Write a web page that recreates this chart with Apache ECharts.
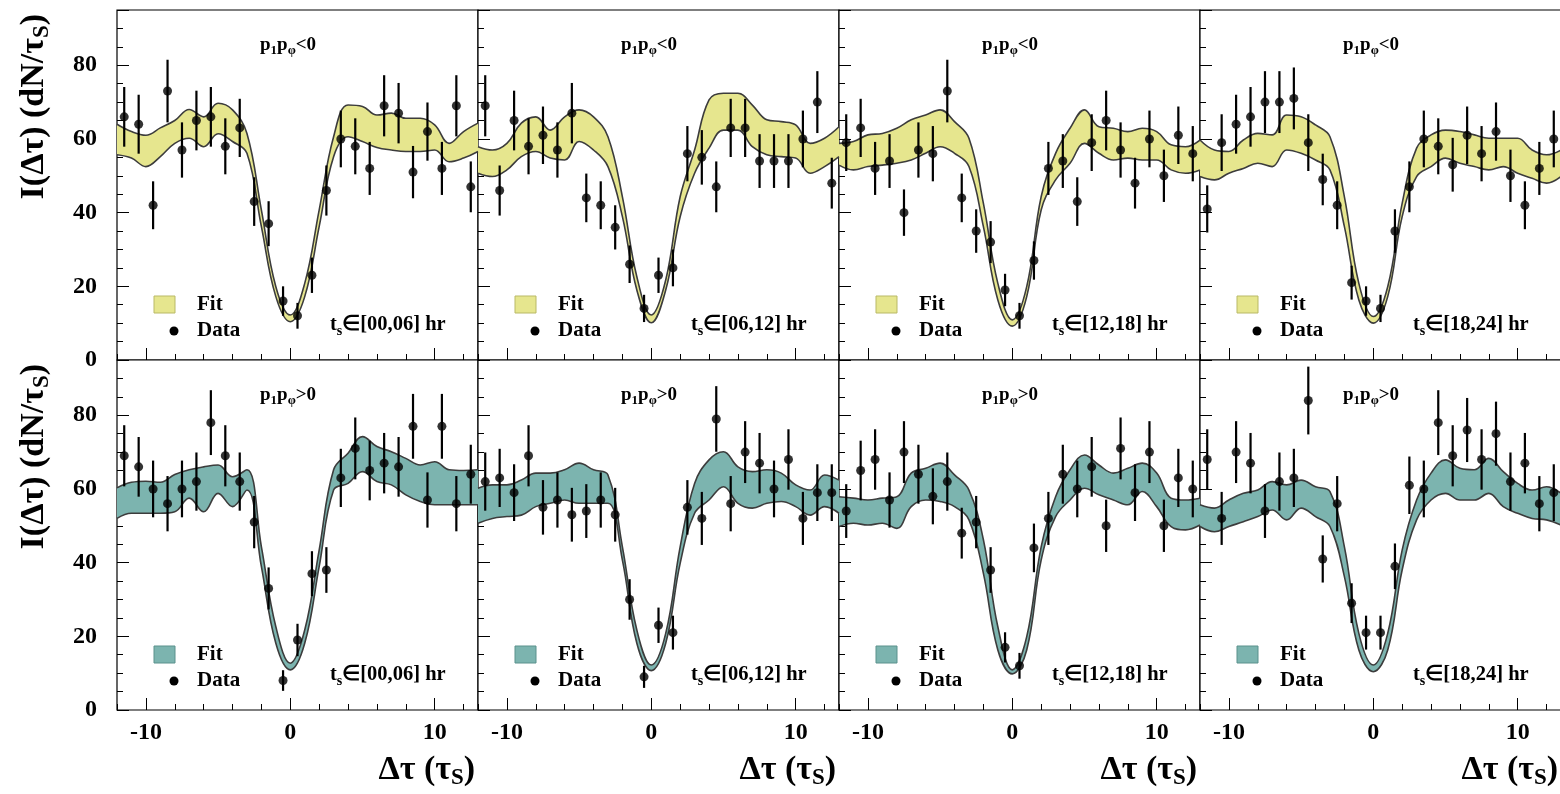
<!DOCTYPE html>
<html><head><meta charset="utf-8">
<script src="https://cdn.jsdelivr.net/npm/echarts@6/dist/echarts.min.js"></script>
<style>html,body{margin:0;padding:0;background:#fff}#c{width:1560px;height:794px}</style>
</head><body><div id="c"></div>
<script>
// ---------- data ----------
const xData = [-11.5,-10.5,-9.5,-8.5,-7.5,-6.5,-5.5,-4.5,-3.5,-2.5,-1.5,-0.5,0.5,1.5,2.5,3.5,4.5,5.5,6.5,7.5,8.5,9.5,10.5,11.5,12.5];
const xFit = [-12,-11,-10,-9,-8,-7,-6,-5,-4,-3,-2,-1,0,1,2,3,4,5,6,7,8,9,10,11,12,13];
const xMajorTicks = [-10, 0, 10];
const yLabelTicks = [0, 20, 40, 60, 80];
const timeBins = ['00,06', '06,12', '12,18', '18,24'];
const signLabels = ['<0', '>0'];

// p1 p_phi < 0
const negData0006 = [66,64,42,73,57,65,66,58,63,43,37,16,12,23,46,60,58,52,69,67,51,62,52,69,47];
const negErr0006  = [8.1,8,6.5,8.5,7.5,8.1,8.1,7.6,7.9,6.6,6.1,4,3.5,4.8,6.8,7.7,7.6,7.2,8.3,8.2,7.1,7.9,7.2,8.3,6.9];
const negHi0006 = [64,62,61,63,65,68,66,69.7,67.9,61.5,40.7,19.9,12.2,20.8,40.7,60.6,69.2,68.8,66.5,67,65.6,65.6,63.8,58.8,62,64.3];
const negLo0006 = [55.7,54.8,52.5,55.2,58.8,60.2,57.9,61.4,59.3,56.1,36.2,17.2,10.4,17.2,36.2,55.2,60.6,59.3,57.7,57,56.6,56.6,57,53.8,54.8,56.6];

const negData0612 = [69,46,65,58,61,57,67,44,42,36,26,14,23,25,56,55,47,63,63,54,54,54,60,70,48];
const negErr0612  = [8.3,6.8,8.1,7.6,7.8,7.5,8.2,6.6,6.5,6,5.1,3.7,4.8,5,7.5,7.4,6.9,7.9,7.9,7.3,7.3,7.3,7.7,8.4,6.9];
const negHi0612 = [57.9,57,58.8,64.3,66,62.4,66,67.9,66,60.6,44.3,22.6,12.2,21.7,44.3,57,70.6,72.4,72.4,69.2,65.2,64.7,63.8,58.8,60.2,63.3];
const negLo0612 = [50.7,49.8,51.6,55.2,56.6,54.8,54.3,59.3,57,52.5,38.9,19,10.1,19,38.9,50.7,57.5,62.4,62.4,57.9,55.7,55.2,54.8,50.7,52.5,55.2];

const negData1218 = [59,63,52,54,40,57,56,73,44,35,32,19,12,27,52,54,43,59,65,57,48,60,50,61,56];
const negErr1218  = [7.7,7.9,7.2,7.3,6.3,7.5,7.5,8.5,6.6,5.9,5.7,4.4,3.5,5.2,7.2,7.3,6.6,7.7,8.1,7.5,6.9,7.7,7.1,7.8,7.5];
const negHi1218 = [58.8,59.3,61.1,61.5,62.9,65.2,66.5,67.9,64.7,60.2,42.5,20.8,10.9,19.9,44.3,56.1,62.9,67.9,63.3,62.9,62,62.9,62,58.4,57.9,59.7];
const negLo1218 = [52.9,51.6,52.5,52.9,53.4,54.3,56.1,57.9,56.1,52.5,36.2,16.3,9.2,17.2,40.7,48.9,53.4,58.8,56.1,54.3,54.8,54.3,54.3,51.6,50.7,51.6];

const negData1824 = [41,59,64,66,70,70,71,59,49,42,21,16,14,35,47,60,58,53,61,56,62,50,42,52,60];
const negErr1824  = [6.4,7.7,8,8.1,8.4,8.4,8.4,7.7,7,6.5,4.6,4,3.7,5.9,6.9,7.7,7.6,7.3,7.8,7.5,7.9,7.1,6.5,7.2,7.7];
const negHi1824 = [59.7,57,56.6,59.7,61.5,61.1,66.5,66,63.8,60.6,44.3,20.8,11.8,19.9,42.5,57.5,61.1,62.4,62,61.1,60.2,60.2,60.2,57,55.7,57];
const negLo1824 = [49.8,48.9,50.7,52,53.4,52.5,57,56.1,54.3,51.6,36.2,16.3,10,17.2,38.9,49.8,52.5,54.8,53.4,52.5,51.6,52.5,50.7,49.3,48,49.8];

// p1 p_phi > 0
const posData0006 = [69,66,60,56,60,62,78,69,62,51,33,8,19,37,38,63,71,65,67,66,77,57,77,56,64];
const posErr0006  = [8.3,8.1,7.7,7.5,7.7,7.9,8.8,8.3,7.9,7.1,5.7,2.8,4.4,6.1,6.2,7.9,8.4,8.1,8.2,8.1,8.8,7.5,8.8,7.5,8];
const posHi0006 = [60.3,61.8,62.1,61.8,63.9,65.2,66,66.5,63.3,65.2,44.3,22.6,12.7,21.7,43.4,65.2,69.7,74.2,71.5,70.1,68.3,66.5,67.4,65.2,65,65.2];
const posLo0006 = [52,53.4,53.4,53.4,53.8,57.5,53.8,58.8,55.2,59.7,38.9,18.1,10.9,18.1,38.9,59.7,61.5,64.7,62,61.1,58.4,56.6,55.7,55.7,55.7,55.7];

const posData0612 = [62,63,59,69,55,57,53,54,57,53,30,9,23,21,55,52,79,56,70,67,60,68,52,59,59];
const posErr0612  = [7.9,7.9,7.7,8.3,7.4,7.5,7.3,7.3,7.5,7.3,5.5,3,4.8,4.6,7.4,7.2,8.9,7.5,8.4,8.2,7.7,8.2,7.2,7.7,7.7];
const posHi0612 = [60.2,61.1,61.1,62.4,64.3,64.3,65.2,67,65.2,63.8,44.3,21.7,12.2,20.8,44.3,61.5,67.9,70.1,66,64.7,65.2,64.3,61.1,59.7,63.8,62.4];
const posLo0612 = [50.7,52,52.5,52.9,55.2,56.1,57,56.1,56.1,56.1,40.7,18.1,10.7,18.1,39.8,53.4,57,60.6,56.1,54.8,56.1,56.6,55.2,52.9,55.2,53.4];

const posData1218 = [54,65,68,57,70,64,58,62,48,51,38,17,12,44,52,64,60,66,50,71,59,70,50,63,60];
const posErr1218  = [7.3,8.1,8.2,7.5,8.4,8,7.6,7.9,6.9,7.1,6.2,4.1,3.5,6.6,7.2,8,7.7,8.1,7.1,8.4,7.7,8.4,7.1,7.9,7.7];
const posHi1218 = [57.9,57.5,57,57.5,57.9,64.3,65.6,67,63.8,59.7,46.2,22.6,10.9,19.9,44.3,57.9,65.2,69.2,66.5,64.3,65.6,67,64.3,57.5,57,57.5];
const posLo1218 = [49.8,50.7,50.2,50.7,49.3,55.2,57,56.6,55.2,51.6,37.1,16.3,9.8,16.3,40.7,52.5,57,60.2,58.4,57,55.7,59.3,55.2,49.8,48.9,50.2];

const posData1824 = [68,52,70,67,54,62,63,84,41,56,29,21,21,39,61,60,78,69,76,68,75,62,67,56,59];
const posErr1824  = [8.2,7.2,8.4,8.2,7.3,7.9,7.9,9.2,6.4,7.5,5.4,4.6,4.6,6.2,7.8,7.7,8.8,8.3,8.7,8.2,8.7,7.9,8.2,7.5,7.7];
const posHi1824 = [55.7,54.8,57,58.8,59.7,62,61.1,62.4,60.6,59.3,44.3,20.8,12.2,20.8,43.4,57,64.3,67.9,65.6,65.2,68.3,64.7,61.5,59.7,60.6,58.8];
const posLo1824 = [49.8,48.4,49.8,51.1,52.5,54.3,51.6,54.8,52.5,49.8,36.2,16.3,10.4,16.3,38,51.6,57,58.8,57,57,58.8,55.2,53.4,52,51.6,50.2];

// ---------- layout / style ----------
const FONT = '"Liberation Serif","Times New Roman",serif';
const FILLS = ['#e6e68e', '#7cb4af'];
const BOXSTROKE = ['#b9b966', '#5b918c'];
const EDGE = '#3c3c3c';
const PANEL_L0 = 117, PANEL_W = 361, PANEL_T0 = 10, PANEL_H = 350;

const panels = [
  {r:0,c:0,vals:negData0006,errs:negErr0006,hi:negHi0006,lo:negLo0006},
  {r:0,c:1,vals:negData0612,errs:negErr0612,hi:negHi0612,lo:negLo0612},
  {r:0,c:2,vals:negData1218,errs:negErr1218,hi:negHi1218,lo:negLo1218},
  {r:0,c:3,vals:negData1824,errs:negErr1824,hi:negHi1824,lo:negLo1824},
  {r:1,c:0,vals:posData0006,errs:posErr0006,hi:posHi0006,lo:posLo0006},
  {r:1,c:1,vals:posData0612,errs:posErr0612,hi:posHi0612,lo:posLo0612},
  {r:1,c:2,vals:posData1218,errs:posErr1218,hi:posHi1218,lo:posLo1218},
  {r:1,c:3,vals:posData1824,errs:posErr1824,hi:posHi1824,lo:posLo1824}
];

const grid = [], xAxis = [], yAxis = [], series = [], graphic = [];
const labelStyle = {fontSize: 24, fontWeight: 'bold', fontFamily: FONT, color: '#000'};
const noLine = {show: false, onZero: false};
const subRich = (main, sub, lh) => ({
  a: {fontSize: main, fontWeight: 'bold', fontFamily: FONT, fill: '#000', lineHeight: lh},
  s: {fontSize: sub, fontWeight: 'bold', fontFamily: FONT, fill: '#000', lineHeight: lh, verticalAlign: 'bottom'}
});

panels.forEach((p, i) => {
  const L = PANEL_L0 + p.c * PANEL_W, T = PANEL_T0 + p.r * PANEL_H;
  grid.push({left: L, top: T, width: PANEL_W, height: PANEL_H, show: true,
    borderColor: '#000', borderWidth: 1.2, backgroundColor: '#fff', containLabel: false, outerBoundsMode: 'none'});
  xAxis.push({type: 'value', gridIndex: i, min: -12, max: 13, interval: 2, position: 'bottom',
    axisLine: noLine, splitLine: {show: false},
    axisTick: {inside: true, length: 6, lineStyle: {color: '#000', width: 1}},
    axisLabel: Object.assign({show: p.r === 1, margin: 11,
      formatter: v => xMajorTicks.includes(v) ? String(v) : ''}, labelStyle)});
  xAxis.push({type: 'value', gridIndex: i, min: -12, max: 13, position: 'bottom',
    axisLine: noLine, splitLine: {show: false},
    axisTick: {inside: true, length: 12, customValues: xMajorTicks, lineStyle: {color: '#000', width: 1}},
    axisLabel: {show: false}});
  yAxis.push({type: 'value', gridIndex: i, min: 0, max: 95, interval: 5, position: 'left',
    axisLine: noLine, splitLine: {show: false},
    axisTick: {inside: true, length: 6, lineStyle: {color: '#000', width: 1}},
    axisLabel: Object.assign({show: p.c === 0, margin: 20,
      formatter: v => yLabelTicks.includes(v) ? String(v) : ''}, labelStyle)});
  yAxis.push({type: 'value', gridIndex: i, min: 0, max: 95, interval: 20, position: 'left',
    axisLine: noLine, splitLine: {show: false},
    axisTick: {inside: true, length: 12, lineStyle: {color: '#000', width: 1}},
    axisLabel: {show: false}});

  const ax = {xAxisIndex: 2 * i, yAxisIndex: 2 * i};
  // band: value dimension first so that stacking happens on y
  series.push(Object.assign({type: 'line', stack: 'band' + i, smooth: 0.4, symbol: 'none', silent: true,
    encode: {x: 1, y: 0},
    data: xFit.map((x, k) => [p.lo[k], x]), lineStyle: {color: EDGE, width: 1.6}, z: 2}, ax));
  series.push(Object.assign({type: 'line', stack: 'band' + i, smooth: 0.4, symbol: 'none', silent: true,
    encode: {x: 1, y: 0},
    data: xFit.map((x, k) => [p.hi[k] - p.lo[k], x]), lineStyle: {color: EDGE, width: 1.6},
    areaStyle: {color: FILLS[p.r], opacity: 1}, z: 2}, ax));
  series.push(Object.assign({type: 'custom', silent: true, clip: true, z: 3,
    data: xData.map((x, k) => [x, p.vals[k], p.errs[k]]),
    encode: {x: 0, y: 1},
    renderItem: (params, api) => {
      const x = api.value(0), y = api.value(1), e = api.value(2);
      const a = api.coord([x, y - e]), b = api.coord([x, y + e]);
      return {type: 'line', shape: {x1: a[0], y1: a[1], x2: b[0], y2: b[1]},
        style: {stroke: '#000', lineWidth: 2.2}};
    }}, ax));
  series.push(Object.assign({type: 'scatter', silent: true, symbolSize: 9, z: 4,
    itemStyle: {color: '#000'}, data: xData.map((x, k) => [x, p.vals[k]])}, ax));

  // in-panel texts
  graphic.push({type: 'text', x: L + 143, y: T + 35, silent: true, z: 100,
    style: {text: '{a|p}{s|1}{a|p}{s|φ}{a|' + signLabels[p.r] + '}', verticalAlign: 'middle', align: 'left',
      rich: subRich(19, 13, 24)}});
  graphic.push({type: 'rect', silent: true, z: 100, shape: {x: L + 37, y: T + 286, width: 21, height: 17},
    style: {fill: FILLS[p.r], stroke: BOXSTROKE[p.r], lineWidth: 1}});
  graphic.push({type: 'text', x: L + 80, y: T + 295, silent: true, z: 100,
    style: {text: 'Fit', font: 'bold 21px ' + FONT, fill: '#000', verticalAlign: 'middle', align: 'left'}});
  graphic.push({type: 'circle', silent: true, z: 100, shape: {cx: L + 57, cy: T + 321, r: 4.5}, style: {fill: '#000'}});
  graphic.push({type: 'text', x: L + 80, y: T + 321, silent: true, z: 100,
    style: {text: 'Data', font: 'bold 21px ' + FONT, fill: '#000', verticalAlign: 'middle', align: 'left'}});
  graphic.push({type: 'text', x: L + 213, y: T + 315, silent: true, z: 100,
    style: {text: '{a|t}{s|s}{a|∈[' + timeBins[p.c] + '] hr}', verticalAlign: 'middle', align: 'left',
      rich: subRich(20.5, 14, 26)}});

  if (p.r === 1) {
    graphic.push({type: 'text', x: L + PANEL_W - 3, y: T + PANEL_H + 60, silent: true, z: 100,
      style: {text: '{a|Δτ (τ}{s|S}{a|)}', verticalAlign: 'middle', align: 'right', rich: subRich(34, 23, 40)}});
  }
  if (p.c === 0) {
    graphic.push({type: 'text', x: 34, y: T + 4, rotation: Math.PI / 2, silent: true, z: 100,
      style: {text: '{a|I(Δτ) (dN/τ}{s|S}{a|)}', verticalAlign: 'middle', align: 'right', rich: subRich(34, 23, 40)}});
  }
});

const chart = echarts.init(document.getElementById('c'), null, {renderer: 'canvas'});
chart.setOption({
  backgroundColor: '#fff',
  animation: false,
  tooltip: {show: false},
  grid, xAxis, yAxis, series, graphic
});
</script></body></html>
